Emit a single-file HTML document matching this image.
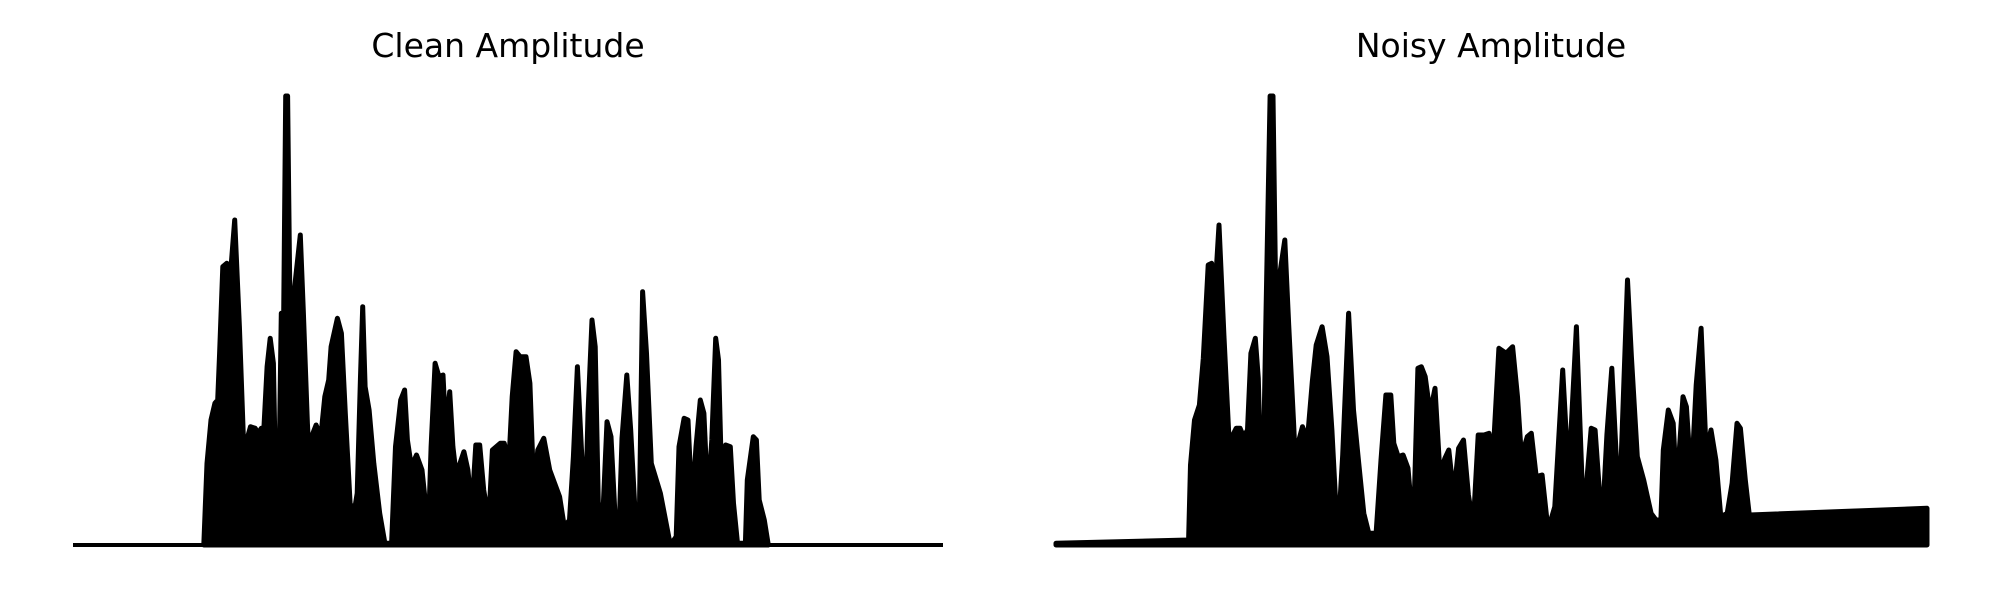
<!DOCTYPE html>
<html>
<head>
<meta charset="utf-8">
<style>
html,body{margin:0;padding:0;background:#fff;}
svg{display:block;}
text{font-family:"DejaVu Sans","Liberation Sans",sans-serif;}
</style>
</head>
<body>
<svg id="chart" width="2000" height="600" viewBox="0 0 2000 600">
  <text x="508" y="57" font-size="33" text-anchor="middle" fill="#000">Clean Amplitude</text>
  <text x="1491" y="57" font-size="33" text-anchor="middle" fill="#000">Noisy Amplitude</text>
  <g id="clean"></g>
  <g id="noisy"></g>
</svg>
<script>
// time in samples (arbitrary units), amplitude in arbitrary units
const cleanDomain = [-271, 1930];
const noisyDomain = [-232, 1542];
const ampMax = 1347;
const cleanTimes = [60,68,78,88,95,100,108,118,125,138,150,160,170,178,190,198,205,212,220,228,236,244,250,256,262,267,272,278,290,304,312,322,330,336,344,356,366,376,382,398,408,418,430,440,448,456,462,468,478,490,505,518,535,545,558,568,575,585,598,612,628,635,645,655,665,672,682,690,698,708,718,728,738,748,758,768,775,782,790,810,820,832,840,850,860,875,885,895,905,920,935,960,972,985,995,1005,1015,1025,1032,1042,1050,1058,1070,1080,1090,1100,1110,1118,1130,1140,1155,1162,1170,1180,1192,1215,1240,1255,1262,1275,1285,1295,1305,1316,1325,1335,1345,1355,1362,1370,1380,1392,1400,1410,1430,1435,1450,1458,1465,1478,1488];
const cleanAmps = [0,245,375,425,435,575,835,845,775,975,655,320,320,355,350,335,350,350,535,620,545,35,195,695,695,1347,1347,705,775,930,695,365,175,335,360,325,445,495,595,680,635,395,125,95,155,495,715,475,405,245,95,5,5,295,435,465,315,235,270,225,40,295,545,505,510,345,460,295,215,245,280,225,105,300,300,165,115,95,285,305,305,255,445,580,565,565,485,155,285,320,225,145,55,75,265,535,295,75,395,675,595,125,105,370,325,95,25,320,510,345,5,95,760,575,245,155,0,25,295,380,375,115,295,435,395,135,315,620,555,195,300,295,125,5,5,195,325,315,135,75,0];
const noisyTimes = [-232,38,42,50,60,68,78,85,92,100,110,120,128,135,143,150,158,165,174,180,188,196,204,210,216,222,234,242,252,258,262,270,280,290,298,310,320,330,338,346,352,364,374,384,395,405,420,430,440,450,456,465,475,485,496,505,512,520,530,540,550,560,568,578,588,598,608,618,628,640,650,658,670,685,698,708,716,728,736,746,758,770,784,800,812,828,840,848,858,866,880,890,900,915,932,940,952,965,980,990,1000,1005,1015,1025,1032,1045,1052,1062,1072,1082,1092,1102,1112,1122,1135,1145,1155,1162,1172,1180,1542];
const noisyAmps = [5,15,240,375,420,560,840,845,765,960,630,330,330,350,350,325,345,575,620,500,35,710,1347,1347,685,795,915,660,365,165,310,355,315,490,600,655,565,345,115,120,270,695,405,255,95,35,35,255,450,450,305,265,270,230,40,530,535,505,395,470,215,260,285,150,290,315,150,60,330,330,335,265,590,575,595,445,265,325,335,205,210,45,115,525,200,655,170,175,350,345,50,330,530,90,795,565,265,195,95,75,75,285,405,365,165,445,415,190,480,650,280,345,255,85,95,185,365,350,195,90,110];

const NS = 'http://www.w3.org/2000/svg';
function makeScales(x0, x1, dom) {
  return {
    x: t => x0 + (t - dom[0]) / (dom[1] - dom[0]) * (x1 - x0),
    y: a => 545 - a / ampMax * 449
  };
}
function draw(gid, times, amps, x0, x1, dom, nm) {
  const g = document.getElementById(gid);
  const s = makeScales(x0, x1, dom);
  const base = document.createElementNS(NS, 'line');
  base.setAttribute('x1', x0); base.setAttribute('x2', x1);
  base.setAttribute('y1', 545); base.setAttribute('y2', 545);
  base.setAttribute('stroke', '#000'); base.setAttribute('stroke-width', '4');
  
  
  g.appendChild(base);
  let d = 'M' + s.x(times[0]) + ' 545';
  for (let i = 0; i < times.length; i++) d += ' L' + s.x(times[i]).toFixed(1) + ' ' + s.y(amps[i]).toFixed(1);
  d += ' L' + s.x(times[times.length - 1]).toFixed(1) + ' 545 Z';
  const p = document.createElementNS(NS, 'path');
  p.setAttribute('d', d);
  p.setAttribute('fill', '#000'); p.setAttribute('stroke', '#000');
  p.setAttribute('stroke-width', '5'); p.setAttribute('stroke-linejoin', 'round');
  
  
  g.appendChild(p);
}
draw('clean', cleanTimes, cleanAmps, 73, 943, cleanDomain, 'clean');
draw('noisy', noisyTimes, noisyAmps, 1056, 1927, noisyDomain, 'noisy');
</script>
</body>
</html>
